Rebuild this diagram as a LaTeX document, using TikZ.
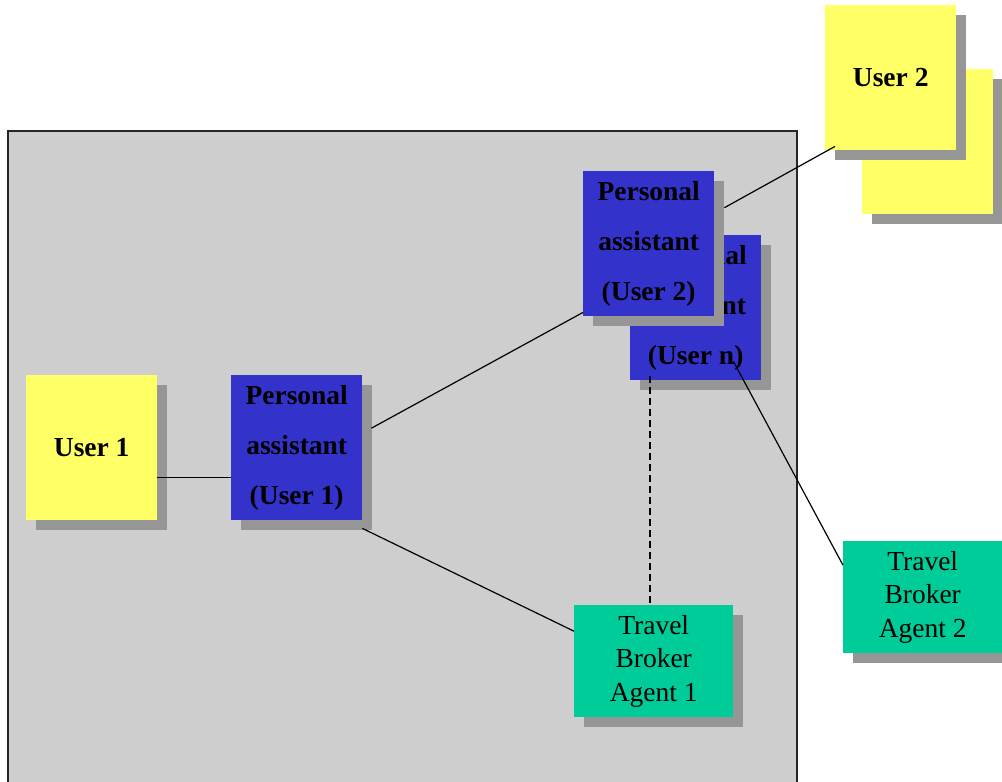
\documentclass[tikz,border=0pt]{standalone}
\usepackage{fontspec}
\setmainfont{Liberation Serif}
\usetikzlibrary{shadows}

\definecolor{paper}{RGB}{206,206,206}
\definecolor{shade}{RGB}{150,150,150}
\definecolor{useryellow}{RGB}{255,255,102}
\definecolor{pablue}{RGB}{51,51,204}
\definecolor{brokergreen}{RGB}{0,204,153}

\begin{document}
\begin{tikzpicture}[x=1pt,y=-1pt,
	box/.style={anchor=north west,inner sep=0pt,align=center,
		drop shadow={shadow xshift=10pt,shadow yshift=-10pt,fill=shade,opacity=1}},
	user/.style={box,fill=useryellow,minimum width=131pt,minimum height=145pt,
		font=\fontsize{27.5}{50}\selectfont\bfseries},
	assistant/.style={box,fill=pablue,minimum width=131pt,minimum height=145pt,
		font=\fontsize{27.5}{50}\selectfont\bfseries},
	broker/.style={box,fill=brokergreen,minimum width=159pt,minimum height=112pt,
		font=\fontsize{27.5}{33.5}\selectfont},
	link/.style={line width=1.2pt}]
	\useasboundingbox (0,0) rectangle (1002,782);
	\draw[fill=paper,draw=black!85,line width=1.5pt] (8,131) rectangle (797,800);

	\node[user] (u2b) at (862,69) {};
	\node[user] (u2) at (825,5) {User 2};
	\node[user] (u1) at (26,375) {User 1};
	\node[assistant] (pa1) at (231,375) {Personal\\assistant\\(User 1)};
	\node[assistant] (pan) at (630,235) {Personal\\assistant\\(User n)};
	\node[assistant] (pa2) at (583,171) {Personal\\assistant\\(User 2)};
	\node[broker] (tba1) at (574,605) {Travel\\Broker\\Agent 1};
	\node[broker] (tba2) at (843,541) {Travel\\Broker\\Agent 2};

	\draw[link] ([yshift=-29.5pt]u1.east) -- ([yshift=-29.5pt]pa1.west);
	\draw[link] ([xshift=9pt,yshift=19.5pt]pa1.east) -- ([yshift=4pt]pa2.south west);
	\draw[link] ([yshift=-8pt]pa1.south east) -- ([yshift=30pt]tba1.west);
	\draw[link] ([xshift=10pt,yshift=36pt]pa2.east) -- ([xshift=10pt,yshift=4pt]u2.south west);
	\draw[link,line width=1.6pt,dash pattern=on 7pt off 4pt]
		([xshift=20pt,yshift=4pt]pan.south west) -- ([xshift=76pt]tba1.north west);
	\draw[link] ([xshift=-28pt,yshift=19pt]pan.south east) -- ([yshift=32pt]tba2.west);
\end{tikzpicture}
\end{document}
